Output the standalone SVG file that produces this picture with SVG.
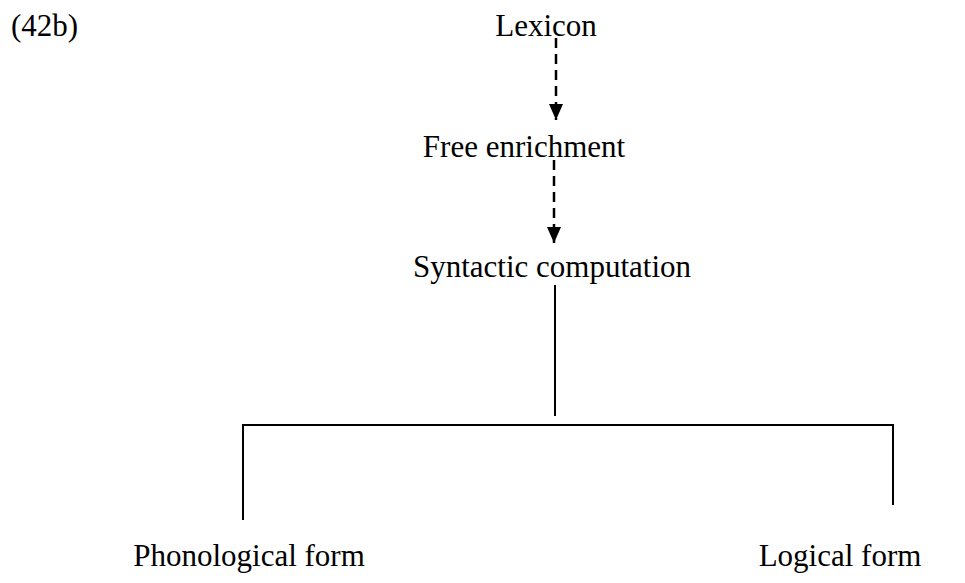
<svg xmlns="http://www.w3.org/2000/svg" width="965" height="583" viewBox="0 0 965 583">
<style>
text{font-family:"Liberation Serif","DejaVu Serif",serif;font-size:31px;fill:#000}
.c{stroke:#000;stroke-width:2;fill:none}
.d{stroke-width:2.5;stroke-dasharray:10,6}
</style>
<defs>
<marker id="a" viewBox="0 0 16 16" refX="16" refY="8" markerWidth="16" markerHeight="16" markerUnits="userSpaceOnUse" orient="auto"><path d="M0,1 L16,8 L0,15 Z" fill="#000"/></marker>
</defs>
<rect width="965" height="583" fill="#fff"/>
<g id="label"><text x="11" y="36">(42b)</text></g>
<g id="lexicon"><text x="546" y="36" text-anchor="middle">Lexicon</text></g>
<g id="free"><text x="524" y="157" text-anchor="middle">Free enrichment</text></g>
<g id="syntactic"><text x="552" y="277" text-anchor="middle">Syntactic computation</text></g>
<g id="phon"><text x="249" y="566" text-anchor="middle">Phonological form</text></g>
<g id="logical"><text x="840" y="566" text-anchor="middle">Logical form</text></g>
<g id="connectors">
<line class="c d" x1="556" y1="38" x2="556" y2="120" marker-end="url(#a)"/>
<line class="c d" x1="554" y1="160" x2="554" y2="243" marker-end="url(#a)"/>
<line class="c" x1="555" y1="285" x2="555" y2="416"/>
<polyline class="c" points="243,520 243,425 893,425 893,505"/>
</g>
</svg>
